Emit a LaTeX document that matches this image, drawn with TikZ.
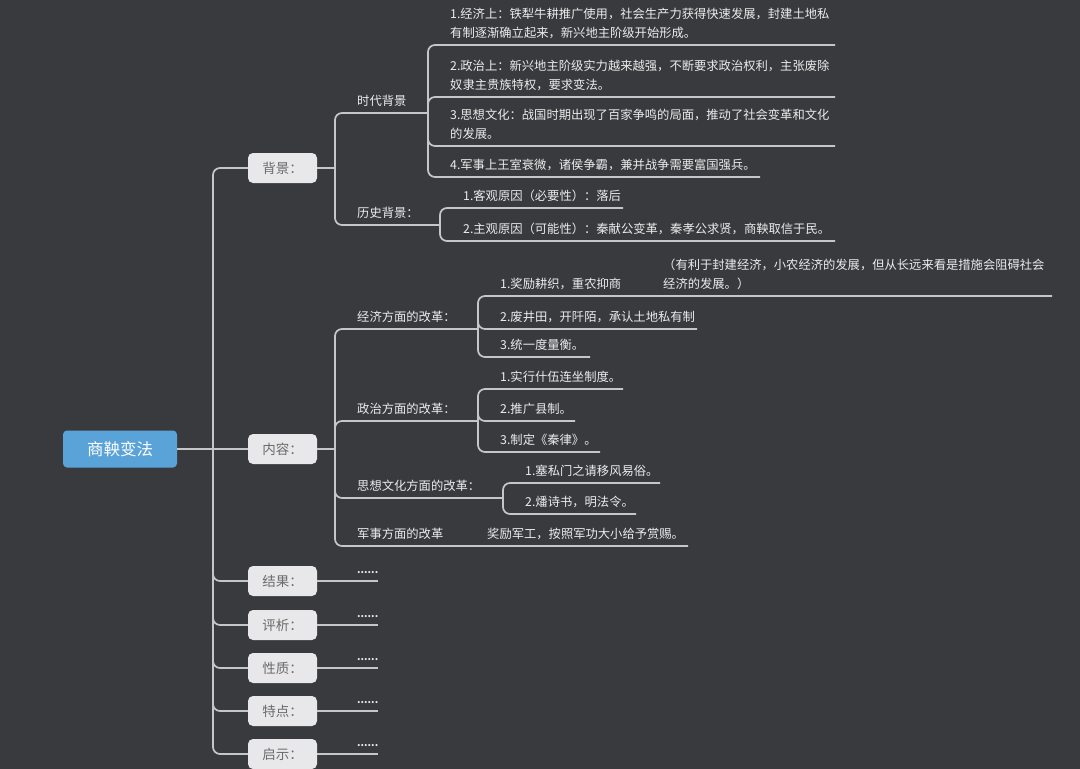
\documentclass[tikz,border=0pt]{standalone}
\usepackage{fontspec}
\setmainfont{Noto Sans CJK SC}
\definecolor{bgC}{HTML}{393A3E}
\definecolor{lineC}{HTML}{C6C6C6}
\definecolor{txtC}{HTML}{ECECEC}
\definecolor{boxC}{HTML}{E8E8EA}
\definecolor{boxT}{HTML}{6B6B6B}
\definecolor{rootC}{HTML}{5AA3D8}
\begin{document}
\begin{tikzpicture}[x=1pt,y=-1pt,
  conn/.style={draw=lineC,line width=1.7pt,rounded corners=7pt},
  rootbox/.style={fill=rootC,rounded corners=4pt,minimum width=114pt,minimum height=37pt,text=white,font=\fontsize{16.5}{20}\selectfont,inner sep=0pt},
  lonebox/.style={fill=boxC,rounded corners=5pt,minimum width=69pt,minimum height=30pt,text=boxT,font=\fontsize{13.5}{16}\selectfont,inner sep=0pt},
  lbl/.style={anchor=base west,inner sep=0pt,text=txtC,font=\fontsize{12.3}{19}\selectfont,align=left},
  dots/.style={anchor=base west,inner sep=0pt,text=txtC,font=\fontsize{10}{10}\selectfont\bfseries}]
\fill[bgC] (0,0) rectangle (1080,769);
\useasboundingbox (0,0) rectangle (1080,769);

% level 0 and 1
\node[rootbox] (root) at (120,449) {商鞅变法};
\node[lonebox] (bj) at (282.5,168) {背景：};
\node[lonebox] (nr) at (282.5,449) {内容：};
\node[lonebox] (jg) at (282.5,581) {结果：};
\node[lonebox] (px) at (282.5,625) {评析：};
\node[lonebox] (xz) at (282.5,668) {性质：};
\node[lonebox] (td) at (282.5,711) {特点：};
\node[lonebox] (qs) at (282.5,754) {启示：};

\coordinate (t) at (213,449);
\draw[conn] (root.east) -- (nr.west);
\foreach \n in {bj,jg,px,xz,td,qs} { \draw[conn] (t) |- (\n.west); }

% dots branches
\foreach \n/\y in {jg/581,px/625,xz/668,td/711,qs/754} {
  \coordinate (\n E) at (378,\y);
  \draw[conn] (\n.east) -- (\n E);
  \node[dots] (\n D) at (357,\y-8) {......};
}

% 背景
\coordinate (b1) at (335,168);
\coordinate (sdJ) at (428,113);
\coordinate (lsJ) at (440,225);
\draw[conn] (bj.east) -- (b1);
\draw[conn] (b1) |- (sdJ);
\draw[conn] (b1) |- (lsJ);
\node[lbl] (sd) at (357,105) {时代背景};
\node[lbl] (ls) at (357,217) {历史背景：};

\node[lbl] (sd1) at (450,37) {1.经济上：铁犁牛耕推广使用，社会生产力获得快速发展，封建土地私\\有制逐渐确立起来，新兴地主阶级开始形成。};
\node[lbl] (sd2) at (450,89) {2.政治上：新兴地主阶级实力越来越强，不断要求政治权利，主张废除\\奴隶主贵族特权，要求变法。};
\node[lbl] (sd3) at (450,138) {3.思想文化：战国时期出现了百家争鸣的局面，推动了社会变革和文化\\的发展。};
\node[lbl] (sd4) at (450,169) {4.军事上王室衰微，诸侯争霸，兼并战争需要富国强兵。};
\coordinate (sd1E) at (835,45);
\coordinate (sd2E) at (835,97);
\coordinate (sd3E) at (835,146);
\coordinate (sd4E) at (760,177);
\foreach \n in {sd1E,sd2E,sd3E,sd4E} { \draw[conn] (sdJ) |- (\n); }

\node[lbl] (hs1) at (463,200) {1.客观原因（必要性）：落后};
\node[lbl] (hs2) at (463,233) {2.主观原因（可能性）：秦献公变革，秦孝公求贤，商鞅取信于民。};
\coordinate (hs1E) at (623,208);
\coordinate (hs2E) at (835,241);
\draw[conn] (lsJ) |- (hs1E);
\draw[conn] (lsJ) |- (hs2E);

% 内容
\coordinate (n1) at (335,449);
\coordinate (jjJ) at (478,329);
\coordinate (zzJ) at (478,421);
\coordinate (sxJ) at (503,498);
\coordinate (jsE) at (688,546);
\draw[conn] (nr.east) -- (n1);
\foreach \n in {jjJ,zzJ,sxJ,jsE} { \draw[conn] (n1) |- (\n); }
\node[lbl] (jj) at (357,321) {经济方面的改革：};
\node[lbl] (zz) at (357,413) {政治方面的改革：};
\node[lbl] (sx) at (357,490) {思想文化方面的改革：};
\node[lbl] (js) at (357,538) {军事方面的改革};
\node[lbl] (js1) at (487,538) {奖励军工，按照军功大小给予赏赐。};

\node[lbl] (jj1) at (500,288) {1.奖励耕织，重农抑商};
\node[lbl] (jjn) at (663,288) {（有利于封建经济，小农经济的发展，但从长远来看是措施会阻碍社会\\经济的发展。）};
\node[lbl] (jj2) at (500,321) {2.废井田，开阡陌，承认土地私有制};
\node[lbl] (jj3) at (500,349) {3.统一度量衡。};
\coordinate (jj1E) at (1052,296);
\coordinate (jj2E) at (697,329);
\coordinate (jj3E) at (590,357);
\foreach \n in {jj1E,jj2E,jj3E} { \draw[conn] (jjJ) |- (\n); }

\node[lbl] (zz1) at (500,381) {1.实行什伍连坐制度。};
\node[lbl] (zz2) at (500,413) {2.推广县制。};
\node[lbl] (zz3) at (500,444) {3.制定《秦律》。};
\coordinate (zz1E) at (623,389);
\coordinate (zz2E) at (575,421);
\coordinate (zz3E) at (600,452);
\foreach \n in {zz1E,zz2E,zz3E} { \draw[conn] (zzJ) |- (\n); }

\node[lbl] (sx1) at (525,475) {1.塞私门之请移风易俗。};
\node[lbl] (sx2) at (525,506) {2.燔诗书，明法令。};
\coordinate (sx1E) at (660,483);
\coordinate (sx2E) at (636,514);
\draw[conn] (sxJ) |- (sx1E);
\draw[conn] (sxJ) |- (sx2E);
\end{tikzpicture}
\end{document}
